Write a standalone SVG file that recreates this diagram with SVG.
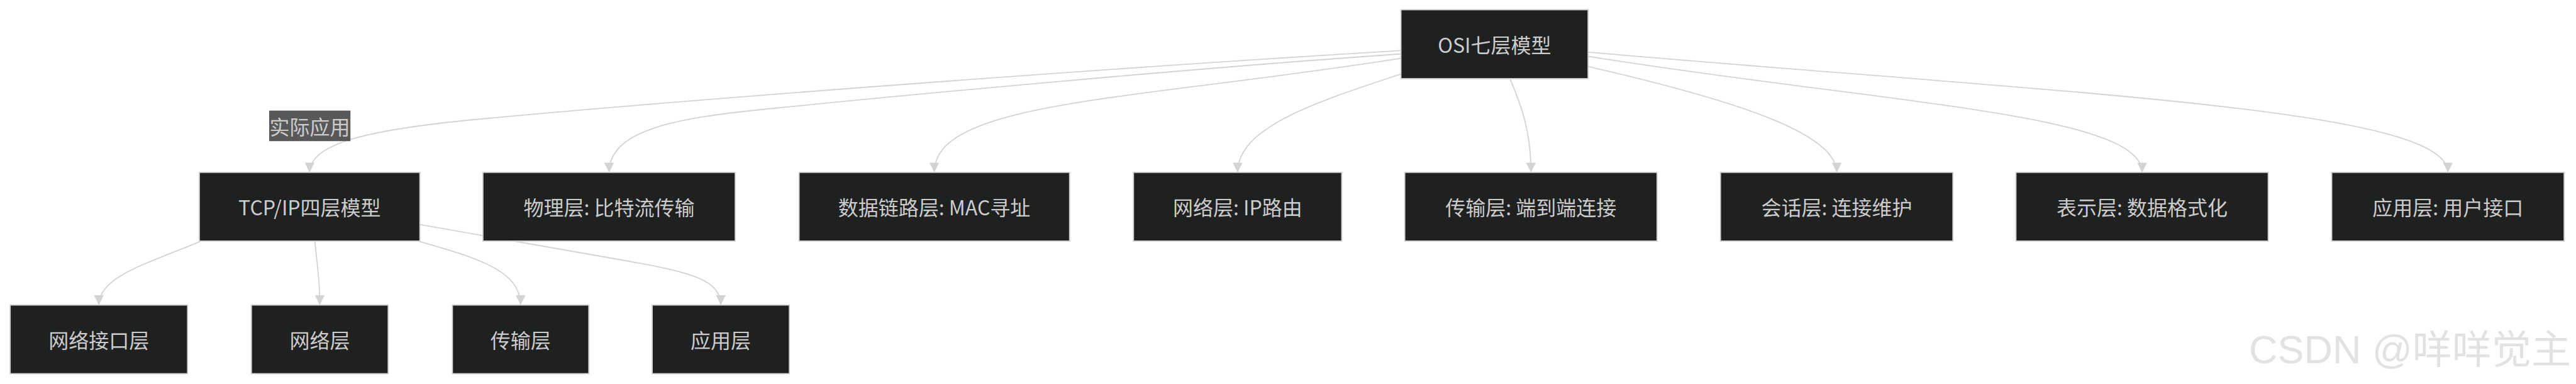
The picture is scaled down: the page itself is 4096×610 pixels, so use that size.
<svg xmlns="http://www.w3.org/2000/svg" width="4096" height="610" viewBox="0 0 4096 610">
<style>
.node rect{fill:#1f2020;stroke:#cccccc;stroke-width:1.8}
.node text,.elabel text{font-family:"Noto Sans CJK SC","Liberation Sans",sans-serif;font-size:32px;fill:#cccccc;text-anchor:middle;dominant-baseline:central}
.edge{fill:none;stroke:#d3d3d3;stroke-width:1.8;marker-end:url(#arrow)}
.elabel rect{fill:#585858}
.wm{font-family:"Liberation Sans","Noto Sans CJK SC",sans-serif;font-size:63px;fill:#e2e2e2;text-anchor:end}
</style>
<defs>
<marker id="arrow" viewBox="0 0 10 10" refX="10" refY="5" markerWidth="15.5" markerHeight="15.5" markerUnits="userSpaceOnUse" orient="auto">
<path d="M0,0 L10,5 L0,10 z" fill="#d3d3d3"/>
</marker>
</defs>
<rect x="0" y="0" width="4096" height="610" fill="#ffffff"/>
<g id="connectors">
<path class="edge" d="M2231,80.1 C1700,112 1050,162 754,190 C600,205 492.3,225 492.3,273.9"/>
<path class="edge" d="M2231,85.5 C1900,108 1450,150 1221,173 C1080,187 968.5,205 968.5,273.9"/>
<path class="edge" d="M2231,92.2 C1800,160 1485.6,160 1485.6,273.9"/>
<path class="edge" d="M2231,116.4 C2100,160 1967.9,200 1967.9,273.9"/>
<path class="edge" d="M2401.3,125.9 C2420,170 2434.3,210 2434.3,273.9"/>
<path class="edge" d="M2525.1,105.7 C2780,164 2920.5,215 2920.5,273.9"/>
<path class="edge" d="M2525.1,89.5 C3000,165 3406.1,180 3406.1,273.9"/>
<path class="edge" d="M2525.1,82.8 C3300,150 3892.3,172 3892.3,273.9"/>
<path class="edge" d="M318.3,383.6 C230,420 157.2,440 157.2,484.6"/>
<path class="edge" d="M500.7,383.6 C505,430 508.5,440 508.5,484.6"/>
<path class="edge" d="M667,383.6 C760,410 827.8,430 827.8,484.6"/>
<path class="edge" d="M667.6,356.7 L1000,415 C1100,433 1146.1,445 1146.1,484.6"/>
</g>
<g id="label-shiji" class="elabel">
<rect x="428" y="175.7" width="129.2" height="48.5"/>
<text x="492.6" y="200">实际应用</text>
</g>
<g id="osi" class="node"><rect x="2227.6" y="15.5" width="297.5" height="109.4"/><text x="2376.4" y="70.2">OSI七层模型</text></g>
<g id="tcpip" class="node"><rect x="317" y="273.9" width="350.6" height="109"/><text x="492.3" y="328.4">TCP/IP四层模型</text></g>
<g id="phy" class="node"><rect x="767.9" y="273.9" width="401.1" height="109"/><text x="968.5" y="328.4">物理层: 比特流传输</text></g>
<g id="datalink" class="node"><rect x="1270.6" y="273.9" width="430.1" height="109"/><text x="1485.6" y="328.4">数据链路层: MAC寻址</text></g>
<g id="network" class="node"><rect x="1802.3" y="273.9" width="331.1" height="109"/><text x="1967.9" y="328.4">网络层: IP路由</text></g>
<g id="transport" class="node"><rect x="2233.7" y="273.9" width="401.1" height="109"/><text x="2434.3" y="328.4">传输层: 端到端连接</text></g>
<g id="session" class="node"><rect x="2735.7" y="273.9" width="369.5" height="109"/><text x="2920.5" y="328.4">会话层: 连接维护</text></g>
<g id="presentation" class="node"><rect x="3205.5" y="273.9" width="401.1" height="109"/><text x="3406.1" y="328.4">表示层: 数据格式化</text></g>
<g id="application" class="node"><rect x="3707.6" y="273.9" width="369.5" height="109"/><text x="3892.3" y="328.4">应用层: 用户接口</text></g>
<g id="tcp-link" class="node"><rect x="16.2" y="484.6" width="282" height="109"/><text x="157.2" y="539.1">网络接口层</text></g>
<g id="tcp-net" class="node"><rect x="399.8" y="484.6" width="217.4" height="109"/><text x="508.5" y="539.1">网络层</text></g>
<g id="tcp-trans" class="node"><rect x="719.4" y="484.6" width="216.8" height="109"/><text x="827.8" y="539.1">传输层</text></g>
<g id="tcp-app" class="node"><rect x="1037.1" y="484.6" width="218" height="109"/><text x="1146.1" y="539.1">应用层</text></g>
<text class="wm" x="4088" y="577">CSDN @咩咩觉主</text>
</svg>
